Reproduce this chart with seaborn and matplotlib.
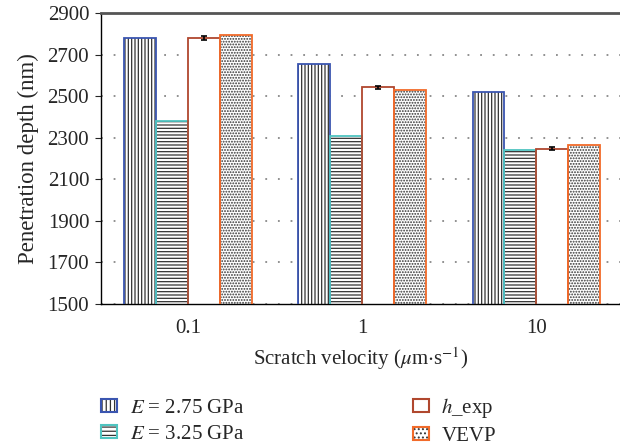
import numpy as np
import pandas as pd
import matplotlib
matplotlib.use("Agg")
import matplotlib.pyplot as plt
from matplotlib.patches import Rectangle
from matplotlib.legend_handler import HandlerTuple
import seaborn as sns

# ---- data ----
velocities = ["0.1", "1", "10"]
series = ["E275", "E325", "hexp", "VEVP"]
labels = [r"$E$ = 2.75 GPa", r"$E$ = 3.25 GPa", r"$h$_exp", "VEVP"]
E275 = [2780, 2655, 2521]
E325 = [2382, 2310, 2240]
hexp = [2780, 2542, 2248]
VEVP = [2794, 2530, 2265]
hexp_err = [8, 9, 9]
yticks = [1500, 1700, 1900, 2100, 2300, 2500, 2700, 2900]

edge_colors = ["#3a55b0", "#4fc4c0", "#b0472e", "#f26b2a"]
hatches = ["|||||", "-----", None, "......"]

rows = []
for s, vals in zip(series, [E275, E325, hexp, VEVP]):
    for v, val in zip(velocities, vals):
        rows.append({"velocity": v, "series": s, "depth": val})
df = pd.DataFrame(rows)

sns.set_style("white")
plt.rcParams["font.family"] = ["Liberation Serif", "DejaVu Serif"]
plt.rcParams["mathtext.fontset"] = "stix"
plt.rcParams["hatch.linewidth"] = 0.9

fig = plt.figure(figsize=(6.2, 4.45), dpi=100)
ax = fig.add_axes([101 / 620, 1 - 304 / 445, 519 / 620, 291 / 445])

sns.barplot(data=df, x="velocity", y="depth", hue="series", order=velocities,
            hue_order=series, palette=["white"] * 4, width=0.733, gap=0,
            errorbar=None, legend=False, ax=ax, zorder=2)

for i, cont in enumerate(ax.containers):
    for p in cont.patches:
        p.set_facecolor("white")
        if hatches[i]:
            p.set_hatch(hatches[i])
            p.set_edgecolor("#333333")
        else:
            p.set_edgecolor("none")
        p.set_linewidth(0)
        x, y = p.get_x(), p.get_y()
        w, h = p.get_width(), p.get_height()
        ax.add_patch(Rectangle((x, y), w, h, fill=False, edgecolor=edge_colors[i],
                               linewidth=1.3, zorder=3))

# error bars on h_exp
hp = ax.containers[2].patches
xs = [p.get_x() + p.get_width() / 2 for p in hp]
ax.errorbar(xs, hexp, yerr=hexp_err, fmt="none", ecolor="black", elinewidth=1.2,
            capsize=2.5, capthick=1.2, zorder=4)

ax.set_ylim(1500, 2900)
ax.set_xlim(-0.5, 2.48)
ax.set_yticks(yticks)
ax.set_xticks([0, 1, 2])
ax.set_xticklabels(velocities)
ax.set_xticks([0.5, 1.5], minor=True)
ax.tick_params(axis="x", which="major", length=0, labelsize=15, pad=11)
ax.tick_params(axis="x", which="minor", length=4.5, direction="out", width=0.8)
ax.tick_params(axis="y", length=4.5, direction="out", width=0.8, labelsize=15,
               pad=4, left=True)

ax.set_axisbelow(True)
ax.yaxis.grid(True, linestyle=(0, (1, 6)), color="#888888", linewidth=1.3)
ax.xaxis.grid(False)

for s in ["left", "bottom"]:
    ax.spines[s].set_color("black")
    ax.spines[s].set_linewidth(1.0)
ax.spines["right"].set_visible(False)
ax.spines["top"].set_color("#555555")
ax.spines["top"].set_linewidth(2.0)

ax.set_xlabel(r"Scratch velocity ($\mu$m$\cdot$s$^{-1}$)", fontsize=15, labelpad=5)
ax.set_ylabel("Penetration depth (nm)", fontsize=16.5, labelpad=6)

handles = []
for i in range(4):
    back = Rectangle((0, 0), 1, 1, facecolor="white", edgecolor="#333333" if hatches[i] else "none",
                     hatch=hatches[i] and hatches[i][:4], linewidth=0)
    front = Rectangle((0, 0), 1, 1, fill=False, edgecolor=edge_colors[i], linewidth=1.5)
    handles.append((back, front))

fig.legend(handles, labels, handler_map={tuple: HandlerTuple(ndivide=1)},
           loc="upper left", bbox_to_anchor=(101 / 620, 1 - 396 / 445), ncol=2,
           frameon=False, fontsize=15, handlelength=0.77, handleheight=0.6,
           handletextpad=0.6, columnspacing=8.1, labelspacing=0.33,
           borderpad=0, borderaxespad=0)

fig.savefig("out.png", dpi=100)
